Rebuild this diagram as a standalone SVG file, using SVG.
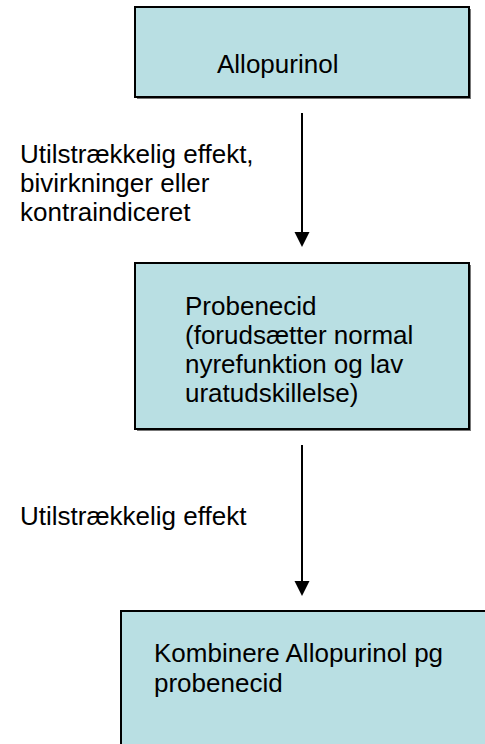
<svg xmlns="http://www.w3.org/2000/svg" width="485" height="744" viewBox="0 0 485 744">
<style>
.box{fill:#B9DFE3;stroke:#000;stroke-width:2}
.shadow{fill:#777}
text{font-family:"Liberation Sans",Arial,sans-serif;font-size:26px;fill:#000}
.conn{stroke:#000;stroke-width:2;fill:none}
.head{fill:#000}
</style>
<rect x="0" y="0" width="485" height="744" fill="#fff"/>
<g id="node-allopurinol">
<rect class="shadow" x="137" y="9" width="334" height="90"/>
<rect class="box" x="135" y="7" width="334" height="90"/>
<text x="217" y="73">Allopurinol</text>
</g>
<g id="node-probenecid">
<rect class="shadow" x="137" y="265" width="334" height="166"/>
<rect class="box" x="135" y="263" width="334" height="166"/>
<text x="185" y="315">Probenecid</text>
<text x="185" y="344">(forudsætter normal</text>
<text x="185" y="373">nyrefunktion og lav</text>
<text x="185" y="402">uratudskillelse)</text>
</g>
<g id="node-kombinere">
<rect class="box" x="121" y="611" width="380" height="150"/>
<text x="154" y="662">Kombinere Allopurinol pg</text>
<text x="154" y="692">probenecid</text>
</g>
<g id="connectors">
<line class="conn" x1="302" y1="113" x2="302" y2="233"/>
<polygon class="head" points="294.5,232 309.5,232 302,247"/>
<line class="conn" x1="302" y1="445" x2="302" y2="582"/>
<polygon class="head" points="294.5,581 309.5,581 302,596"/>
</g>
<g id="labels">
<text x="20" y="163">Utilstrækkelig effekt,</text>
<text x="20" y="192">bivirkninger eller</text>
<text x="20" y="221">kontraindiceret</text>
<text x="20" y="525">Utilstrækkelig effekt</text>
</g>
</svg>
